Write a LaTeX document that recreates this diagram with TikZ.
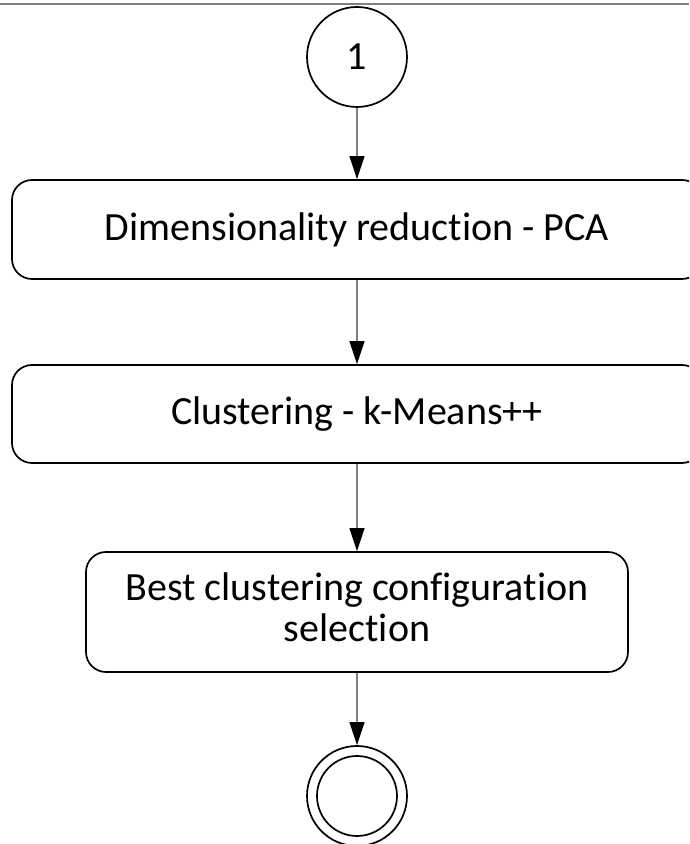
\documentclass[tikz,border=0pt]{standalone}
\usepackage{fontspec}
\setmainfont{Carlito}[Ligatures=NoCommon]
\usetikzlibrary{arrows.meta}
\begin{document}
\begin{tikzpicture}[x=1pt,y=1pt,
  every node/.style={font=\fontsize{40pt}{41pt}\selectfont, inner sep=0pt},
  stepbox/.style={draw=black, line width=1.7pt, rounded corners=20pt, align=center},
  startc/.style={draw=black, line width=1.7pt, circle, minimum size=100pt},
  endc/.style={draw=black, line width=1.7pt, circle, minimum size=100pt},
  flow/.style={draw=black!50, line width=1.3pt, -{Triangle[length=23pt,width=15pt,color=black]}}
]
\useasboundingbox (0,0) rectangle (689,844);
\clip (0,0) rectangle (689,844);
\draw[black!50, line width=1.3pt] (0,840) -- (689,840);
\node[startc] (start) at (357,787) {1};
\node[stepbox, minimum width=690pt, minimum height=99pt] (pca) at (357,614.5) {Dimensionality reduction - PCA};
\node[stepbox, minimum width=690pt, minimum height=98pt] (km) at (357,430) {Clustering - k-Means++};
\node[stepbox, minimum width=542pt, minimum height=120pt] (best) at (357,232) {Best clustering configuration\\selection\rule[-10pt]{0pt}{10pt}};
\node[endc] (end) at (357,48) {};
\draw[black, line width=1.7pt] (end.center) circle[radius=40pt];
\draw[flow] (start) -- (pca);
\draw[flow] (pca) -- (km);
\draw[flow] (km) -- (best);
\draw[flow] (best) -- (end);
\end{tikzpicture}
\end{document}
